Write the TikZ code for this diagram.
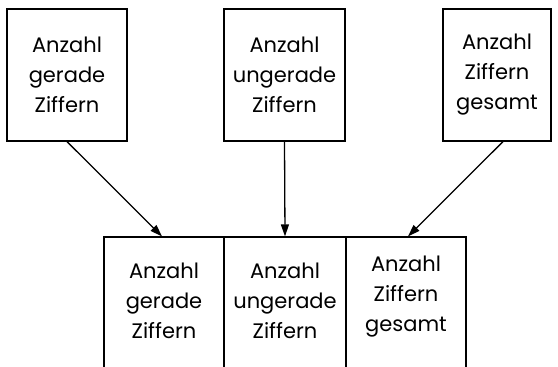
\documentclass[tikz,border=0pt]{standalone}
\usepackage{fontspec}
\setmainfont{Poppins}
\usetikzlibrary{arrows.meta}
\begin{document}
\begin{tikzpicture}[x=1pt,y=-1pt,
  box/.style={draw=black,line width=1.2pt,rectangle,inner sep=0pt},
  lbl/.style={align=center,font=\fontsize{21}{30}\selectfont,inner sep=0pt},
  arr/.style={line width=1.3pt,-{Triangle[length=12pt,width=8pt]}}]
\useasboundingbox (0,0) rectangle (558,367);
\clip (0,0) rectangle (558,367);
% top boxes
\node[box,minimum width=120pt,minimum height=132pt] (tl) at (67,75) {};
\node[box,minimum width=121pt,minimum height=132pt] (tm) at (284.5,75) {};
\node[box,minimum width=108pt,minimum height=132pt] (tr) at (497,75) {};
\node[lbl] (tlt) at (tl.center) {Anzahl\\gerade\\Ziffern};
\node[lbl] (tmt) at (tm.center) {Anzahl\\ungerade\\Ziffern};
\node[lbl] (trt) at (tr.center) {Anzahl\\Ziffern\\gesamt};
% bottom boxes (open at the lower edge)
\node[box,minimum width=120pt,minimum height=160pt] (bl) at (164,317) {};
\node[box,minimum width=122pt,minimum height=160pt] (bm) at (285,317) {};
\node[box,minimum width=120pt,minimum height=160pt] (br) at (406,317) {};
\node[lbl] (blt) at (164,301) {Anzahl\\gerade\\Ziffern};
\node[lbl] (bmt) at (285,301) {Anzahl\\ungerade\\Ziffern};
\node[lbl] (brt) at (406,297) {Anzahl\\Ziffern\\gesamt};
% arrows
\draw[arr] (tl.south) -- ([xshift=-2pt]bl.north);
\draw[arr] (tm.south) -- (bm.north);
\draw[arr] ([xshift=6pt]tr.south) -- ([xshift=2pt]br.north);
\end{tikzpicture}
\end{document}
